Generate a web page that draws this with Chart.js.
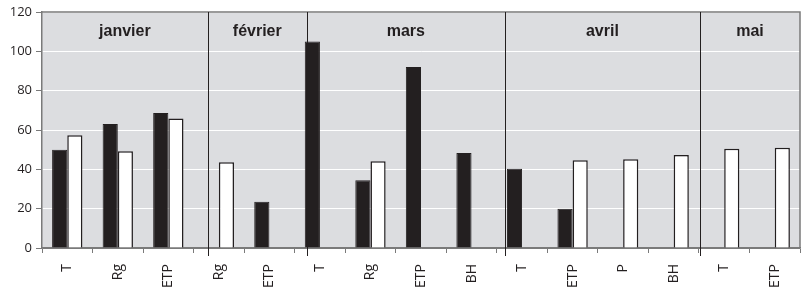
<!DOCTYPE html>
<html>
<head>
<meta charset="utf-8">
<script src="https://cdn.jsdelivr.net/npm/chart.js@4.4.1/dist/chart.umd.min.js"></script>
<style>
  html, body { margin: 0; padding: 0; background: #fff; }
  #wrap { width: 805px; height: 296px; }
</style>
</head>
<body>
<div id="wrap"><canvas id="myChart" width="805" height="296"></canvas></div>
<script>
var categories = ["T", "Rg", "ETP", "Rg", "ETP", "T", "Rg", "ETP", "BH", "T", "ETP", "P", "BH", "T", "ETP"];
var seriesBlack = [50, 63, 68.6, null, 23.5, 105, 34.4, 92, 48.3, 40.3, 20, null, null, null, null];
var seriesWhite = [57.3, 49.2, 65.9, 43.6, null, null, 44.1, null, null, null, 44.6, 45.1, 47.3, 50.5, 51];
var months = ["janvier", "février", "mars", "avril", "mai"];
// separators, in category-index units
var monthEdges = [2.78, 4.74, 8.66, 12.52];
var yTicks = [0, 20, 40, 60, 80, 100, 120];

var dark = "#231f20";

var monthPlugin = {
  id: "months",
  beforeDraw: function (chart) {
    var a = chart.chartArea, c = chart.ctx;
    c.save();
    c.fillStyle = "#dcdde0";
    c.fillRect(a.left, a.top, a.right - a.left, a.bottom - a.top);
    c.restore();
  },
  afterDatasetsDraw: function (chart) {
    var a = chart.chartArea, c = chart.ctx, x = chart.scales.x;
    c.save();
    // top and right border
    c.strokeStyle = "#7a7a7a";
    c.lineWidth = 1.5;
    c.beginPath();
    c.moveTo(a.left, a.top);
    c.lineTo(a.right, a.top);
    c.lineTo(a.right, a.bottom);
    c.stroke();
    // month separators
    c.strokeStyle = dark;
    c.lineWidth = 1;
    monthEdges.forEach(function (e) {
      var px = Math.round(x.getPixelForValue(e)) + 0.5;
      c.beginPath();
      c.moveTo(px, a.top);
      c.lineTo(px, a.bottom + 8);
      c.stroke();
    });
    // month names
    var edges = [-0.5].concat(monthEdges, [categories.length - 0.5]);
    c.fillStyle = "#231f20";
    c.font = "bold 16px 'Liberation Sans', Arial, sans-serif";
    c.textAlign = "center";
    c.textBaseline = "middle";
    months.forEach(function (m, i) {
      var px = (x.getPixelForValue(edges[i]) + x.getPixelForValue(edges[i + 1])) / 2;
      c.fillText(m, px, a.top + 20);
    });
    c.restore();
  }
};

var ctx = document.getElementById("myChart").getContext("2d");

var myChart = new Chart(ctx, {
  type: "bar",
  data: {
    labels: categories,
    datasets: [
      {
        label: "noir",
        data: seriesBlack,
        backgroundColor: dark,
        borderColor: dark,
        borderWidth: 1,
        categoryPercentage: 0.6,
        barPercentage: 1
      },
      {
        label: "blanc",
        data: seriesWhite,
        backgroundColor: "#ffffff",
        borderColor: dark,
        borderWidth: 1.5,
        categoryPercentage: 0.6,
        barPercentage: 1
      }
    ]
  },
  options: {
    responsive: false,
    animation: false,
    layout: { padding: { top: 12, right: 5, left: 0, bottom: 0 } },
    plugins: { legend: { display: false }, tooltip: { enabled: false } },
    scales: {
      x: {
        afterFit: function (s) { s.height = 48; },
        grid: {
          offset: true,
          drawOnChartArea: false,
          color: "#7a7a7a",
          tickLength: 5
        },
        border: { color: "#7a7a7a", width: 1.5 },
        ticks: {
          maxRotation: 90,
          minRotation: 90,
          autoSkip: false,
          padding: 11,
          color: "#231f20",
          font: { family: "'Open Sans', sans-serif", size: 14 }
        }
      },
      y: {
        min: 0,
        max: 120,
        afterFit: function (s) { s.width = 42; },
        afterBuildTicks: function (s) {
          s.ticks = yTicks.map(function (v) { return { value: v }; });
        },
        grid: {
          color: function (c) { return c.tick && c.tick.value === 0 ? "#7a7a7a" : "#ffffff"; },
          tickColor: "#7a7a7a",
          tickLength: 6,
          lineWidth: 1
        },
        border: { color: "#7a7a7a", width: 1.5 },
        ticks: {
          padding: 4,
          color: "#231f20",
          font: { family: "'Open Sans', sans-serif", size: 13 }
        }
      }
    }
  },
  plugins: [monthPlugin]
});
</script>
</body>
</html>
